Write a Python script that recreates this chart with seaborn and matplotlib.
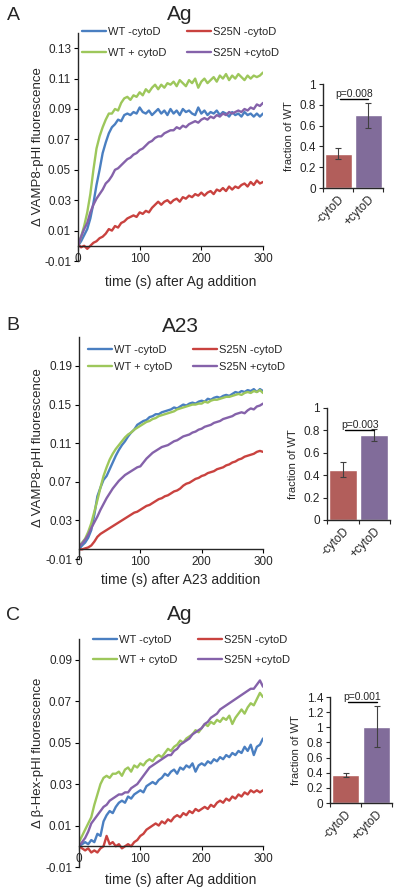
import numpy as np
import pandas as pd
import matplotlib
matplotlib.use("Agg")
import matplotlib.pyplot as plt
import seaborn as sns

# -----------------------------
# DATA
# -----------------------------
time = np.arange(0, 301, 5)
groups = ["WT -cytoD", "WT + cytoD", "S25N -cytoD", "S25N +cytoD"]
colors = ["#4A7FC1", "#9DC75B", "#C9423F", "#8562AA"]

# Panel A: VAMP8-pHl, Ag
a_wt = [0.000, 0.003, 0.007, 0.011, 0.018, 0.028, 0.040, 0.050, 0.061, 0.068, 0.074,
        0.078, 0.080, 0.083, 0.082, 0.086, 0.087, 0.086, 0.088, 0.087, 0.091, 0.088,
        0.087, 0.089, 0.086, 0.088, 0.090, 0.087, 0.089, 0.086, 0.090, 0.087, 0.089,
        0.086, 0.090, 0.088, 0.089, 0.087, 0.086, 0.091, 0.087, 0.089, 0.086, 0.088,
        0.087, 0.089, 0.086, 0.088, 0.087, 0.085, 0.088, 0.086, 0.087, 0.085, 0.088,
        0.086, 0.087, 0.085, 0.087, 0.085, 0.087]
a_wt_cyto = [0.000, 0.006, 0.013, 0.022, 0.034, 0.050, 0.064, 0.072, 0.078, 0.083, 0.087,
             0.087, 0.090, 0.089, 0.094, 0.097, 0.098, 0.096, 0.099, 0.098, 0.101, 0.099,
             0.103, 0.101, 0.104, 0.106, 0.103, 0.106, 0.104, 0.107, 0.106, 0.108, 0.105,
             0.109, 0.107, 0.105, 0.109, 0.107, 0.110, 0.104, 0.108, 0.110, 0.107, 0.109,
             0.111, 0.108, 0.112, 0.110, 0.113, 0.109, 0.112, 0.110, 0.113, 0.111, 0.109,
             0.112, 0.110, 0.112, 0.111, 0.112, 0.114]
a_mut = [0.001, -0.001, 0.000, -0.002, 0.000, 0.002, 0.003, 0.005, 0.006, 0.008, 0.011,
         0.010, 0.013, 0.012, 0.015, 0.016, 0.018, 0.019, 0.020, 0.019, 0.022, 0.021,
         0.023, 0.022, 0.025, 0.027, 0.029, 0.027, 0.029, 0.030, 0.028, 0.030, 0.031,
         0.029, 0.032, 0.031, 0.033, 0.032, 0.034, 0.033, 0.035, 0.033, 0.035, 0.036,
         0.034, 0.037, 0.036, 0.038, 0.036, 0.039, 0.037, 0.039, 0.038, 0.040, 0.041,
         0.039, 0.042, 0.040, 0.043, 0.041, 0.042]
a_mut_cyto = [0.000, 0.006, 0.011, 0.015, 0.022, 0.027, 0.031, 0.034, 0.037, 0.041, 0.043,
              0.046, 0.050, 0.051, 0.053, 0.055, 0.057, 0.058, 0.060, 0.061, 0.063, 0.064,
              0.066, 0.068, 0.069, 0.071, 0.072, 0.072, 0.074, 0.075, 0.076, 0.076, 0.078,
              0.077, 0.079, 0.078, 0.080, 0.081, 0.082, 0.081, 0.083, 0.084, 0.083, 0.085,
              0.084, 0.086, 0.085, 0.087, 0.086, 0.088, 0.087, 0.088, 0.089, 0.088, 0.090,
              0.089, 0.091, 0.090, 0.093, 0.092, 0.094]

# Panel B: VAMP8-pHl, A23
b_wt = [0.000, 0.004, 0.007, 0.012, 0.020, 0.036, 0.055, 0.064, 0.072, 0.076, 0.083,
        0.090, 0.097, 0.103, 0.108, 0.112, 0.117, 0.121, 0.124, 0.129, 0.131, 0.133,
        0.134, 0.137, 0.138, 0.140, 0.140, 0.142, 0.143, 0.144, 0.145, 0.147, 0.146,
        0.148, 0.150, 0.149, 0.151, 0.152, 0.151, 0.153, 0.154, 0.153, 0.156, 0.155,
        0.157, 0.158, 0.157, 0.159, 0.160, 0.159, 0.161, 0.163, 0.162, 0.164, 0.163,
        0.165, 0.164, 0.166, 0.163, 0.166, 0.164]
b_wt_cyto = [0.003, 0.007, 0.011, 0.018, 0.027, 0.039, 0.051, 0.064, 0.076, 0.085, 0.093,
             0.099, 0.104, 0.108, 0.112, 0.116, 0.119, 0.121, 0.124, 0.126, 0.128, 0.130,
             0.132, 0.133, 0.135, 0.136, 0.138, 0.139, 0.140, 0.141, 0.142, 0.143, 0.145,
             0.146, 0.147, 0.148, 0.149, 0.150, 0.150, 0.151, 0.151, 0.153, 0.152, 0.154,
             0.155, 0.155, 0.156, 0.157, 0.158, 0.158, 0.159, 0.160, 0.161, 0.160, 0.162,
             0.163, 0.162, 0.164, 0.163, 0.165, 0.162]
b_mut = [0.000, 0.000, 0.001, 0.002, 0.004, 0.008, 0.013, 0.016, 0.018, 0.020, 0.022,
         0.024, 0.026, 0.028, 0.030, 0.032, 0.034, 0.036, 0.038, 0.039, 0.041, 0.043,
         0.045, 0.046, 0.048, 0.050, 0.052, 0.053, 0.055, 0.056, 0.058, 0.060, 0.061,
         0.063, 0.066, 0.068, 0.069, 0.071, 0.073, 0.074, 0.076, 0.077, 0.079, 0.080,
         0.081, 0.083, 0.084, 0.085, 0.087, 0.088, 0.090, 0.091, 0.093, 0.094, 0.096,
         0.097, 0.098, 0.099, 0.101, 0.102, 0.101]
b_mut_cyto = [0.003, 0.006, 0.010, 0.015, 0.022, 0.028, 0.034, 0.041, 0.047, 0.053, 0.058,
              0.063, 0.067, 0.071, 0.074, 0.077, 0.079, 0.081, 0.083, 0.085, 0.086, 0.090,
              0.094, 0.097, 0.100, 0.102, 0.104, 0.106, 0.107, 0.108, 0.110, 0.112, 0.113,
              0.115, 0.117, 0.118, 0.119, 0.121, 0.122, 0.124, 0.125, 0.127, 0.128, 0.129,
              0.131, 0.132, 0.133, 0.135, 0.136, 0.137, 0.138, 0.140, 0.141, 0.142, 0.141,
              0.144, 0.146, 0.145, 0.148, 0.149, 0.151]

# Panel C: beta-Hex-pHl, Ag
c_wt = [0.000, 0.001, 0.002, 0.001, 0.003, 0.002, 0.006, 0.005, 0.012, 0.015, 0.017,
        0.016, 0.019, 0.021, 0.022, 0.021, 0.024, 0.023, 0.025, 0.026, 0.027, 0.026,
        0.029, 0.030, 0.031, 0.030, 0.032, 0.033, 0.035, 0.034, 0.036, 0.037, 0.035,
        0.038, 0.037, 0.039, 0.038, 0.040, 0.036, 0.039, 0.040, 0.039, 0.041, 0.040,
        0.042, 0.041, 0.043, 0.042, 0.044, 0.043, 0.045, 0.044, 0.046, 0.045, 0.048,
        0.046, 0.049, 0.044, 0.048, 0.049, 0.052]
c_wt_cyto = [0.002, 0.005, 0.008, 0.011, 0.014, 0.020, 0.025, 0.030, 0.033, 0.034, 0.033,
             0.035, 0.035, 0.036, 0.034, 0.037, 0.038, 0.036, 0.039, 0.038, 0.040, 0.039,
             0.041, 0.042, 0.041, 0.043, 0.044, 0.043, 0.045, 0.047, 0.046, 0.048, 0.049,
             0.051, 0.050, 0.052, 0.053, 0.054, 0.056, 0.055, 0.057, 0.059, 0.058, 0.060,
             0.059, 0.061, 0.060, 0.062, 0.061, 0.063, 0.059, 0.062, 0.064, 0.066, 0.064,
             0.067, 0.069, 0.068, 0.071, 0.074, 0.072]
c_mut = [0.000, -0.001, -0.002, -0.001, -0.003, -0.002, -0.003, -0.001, 0.000, 0.005, 0.001,
         0.002, 0.000, 0.001, -0.001, 0.000, 0.001, 0.000, 0.002, 0.003, 0.005, 0.006,
         0.008, 0.009, 0.010, 0.011, 0.010, 0.012, 0.011, 0.013, 0.012, 0.014, 0.015,
         0.014, 0.016, 0.015, 0.017, 0.016, 0.018, 0.017, 0.018, 0.019, 0.018, 0.020,
         0.019, 0.021, 0.022, 0.021, 0.023, 0.022, 0.024, 0.023, 0.025, 0.024, 0.026,
         0.025, 0.027, 0.026, 0.027, 0.026, 0.027]
c_mut_cyto = [0.000, 0.002, 0.004, 0.007, 0.011, 0.013, 0.015, 0.017, 0.019, 0.020, 0.022,
              0.023, 0.024, 0.025, 0.025, 0.026, 0.026, 0.028, 0.029, 0.030, 0.032, 0.034,
              0.036, 0.038, 0.039, 0.040, 0.041, 0.042, 0.043, 0.044, 0.044, 0.046, 0.047,
              0.049, 0.050, 0.051, 0.052, 0.054, 0.055, 0.056, 0.057, 0.059, 0.060, 0.062,
              0.063, 0.064, 0.066, 0.067, 0.068, 0.069, 0.070, 0.071, 0.072, 0.073, 0.074,
              0.075, 0.076, 0.076, 0.078, 0.080, 0.077]

# bar insets: fraction of WT (mean, error)
bar_labels = ["-cytoD", "+cytoD"]
bar_colors = ["#C0504D", "#8064A2"]
a_frac = [0.33, 0.70]
a_err = [0.05, 0.12]
b_frac = [0.45, 0.76]
b_err = [0.065, 0.055]
c_frac = [0.37, 1.01]
c_err = [0.03, 0.27]
p_texts = ["p=0.008", "p=0.003", "p=0.001"]

# -----------------------------
# STYLE
# -----------------------------
sns.set_style("ticks")
plt.rcParams["font.family"] = ["Liberation Sans", "DejaVu Sans"]
plt.rcParams["axes.linewidth"] = 1.0

fig = plt.figure(figsize=(4, 8.94), dpi=100)
W, H = 400, 894


def px_box(left, top, right, bottom):
    return [left / W, 1 - bottom / H, (right - left) / W, (bottom - top) / H]


def main_panel(box, curves, ymax, yticks, ylabel, xlabel, xlabel_y, leg_xy, leg_space):
    ax = fig.add_axes(px_box(*box))
    df = pd.DataFrame({
        "time": np.tile(time, 4),
        "value": np.concatenate(curves),
        "group": np.repeat(groups, len(time)),
    })
    sns.lineplot(data=df, x="time", y="value", hue="group", hue_order=groups,
                 palette=colors, linewidth=1.7, ax=ax)
    ax.set_xlim(0, 300)
    ax.set_ylim(-0.01, ymax)
    ax.set_xticks([0, 100, 200, 300])
    ax.set_yticks(yticks)
    ax.set_yticklabels([f"{v:.2f}" for v in yticks])
    ax.spines["bottom"].set_position(("data", 0))
    sns.despine(ax=ax)
    ax.tick_params(labelsize=8.5, length=3, width=0.8, pad=2, color="black")
    ax.set_xlabel(xlabel, fontsize=10, va="center")
    ax.set_ylabel(ylabel, fontsize=9.5, va="center")
    # label centres given in figure pixels
    x_mid = (box[0] + box[2]) / 2
    fig_label_x = (x_mid + 10 - box[0]) / (box[2] - box[0])
    ax.xaxis.set_label_coords(fig_label_x, (box[3] - xlabel_y) / (box[3] - box[1]))
    ax.yaxis.set_label_coords((38 - box[0]) / (box[2] - box[0]), 0.5)
    handles, labels = ax.get_legend_handles_labels()
    ax.legend(handles, labels, ncol=2, loc="upper left", frameon=False,
              bbox_to_anchor=(leg_xy[0] / W, 1 - leg_xy[1] / H),
              bbox_transform=fig.transFigure, fontsize=8, handlelength=2.2,
              handletextpad=0.1, columnspacing=1.9, labelspacing=leg_space,
              borderaxespad=0, borderpad=0)
    return ax


def bar_panel(box, frac, err, ymax, yticks, ytick_labels, ptext, p_y):
    ax = fig.add_axes(px_box(*box))
    sns.barplot(x=bar_labels, y=frac, hue=bar_labels, palette=bar_colors,
                width=0.9, legend=False, ax=ax)
    ax.errorbar([0, 1], frac, yerr=err, fmt="none", ecolor="#404040",
                elinewidth=0.8, capsize=2, capthick=0.8)
    ax.set_xlim(-0.5, 1.5)
    ax.set_ylim(0, ymax)
    ax.set_yticks(yticks)
    ax.set_yticklabels(ytick_labels)
    ax.set_xticks([0, 1])
    ax.set_xticklabels(bar_labels, rotation=45, ha="right",
                       rotation_mode="anchor")
    ax.set_xticks([-0.5, 0.5, 1.5], minor=True)
    ax.tick_params(axis="x", which="major", length=0, labelsize=8.5, pad=4)
    ax.tick_params(axis="x", which="minor", length=3, width=0.8)
    ax.tick_params(axis="y", labelsize=8.5, length=3, width=0.8, pad=2)
    sns.despine(ax=ax)
    ax.set_ylabel("fraction of WT", fontsize=8)
    ax.plot([0.08, 1.0], [p_y, p_y], color="black", lw=1.0, clip_on=False)
    ax.text(0.54, p_y, ptext, ha="center", va="bottom", fontsize=7.5,
            clip_on=False)
    return ax


# Panel A
main_panel((78, 33, 263, 261), [a_wt, a_wt_cyto, a_mut, a_mut_cyto], 0.14,
           [-0.01, 0.01, 0.03, 0.05, 0.07, 0.09, 0.11, 0.13],
           "\u0394 VAMP8-pHl fluorescence", "time (s) after Ag addition", 282,
           (82, 27), 0.95)
bar_panel((323, 84, 383, 188), a_frac, a_err, 1.0, [0, 0.2, 0.4, 0.6, 0.8, 1.0],
          ["0", "0.2", "0.4", "0.6", "0.8", "1"], p_texts[0], 0.86)
fig.text(13 / W, 1 - 15 / H, "A", fontsize=14, ha="center", va="center")
fig.text(180 / W, 1 - 15 / H, "Ag", fontsize=15, ha="center", va="center")

# Panel B
main_panel((79, 337, 263, 559), [b_wt, b_wt_cyto, b_mut, b_mut_cyto], 0.22,
           [-0.01, 0.03, 0.07, 0.11, 0.15, 0.19],
           "\u0394 VAMP8-pHl fluorescence", "time (s) after A23 addition", 580,
           (88, 345), 0.6)
bar_panel((327, 408, 390, 520), b_frac, b_err, 1.0, [0, 0.2, 0.4, 0.6, 0.8, 1.0],
          ["0", "0.2", "0.4", "0.6", "0.8", "1"], p_texts[1], 0.80)
fig.text(13 / W, 1 - 325 / H, "B", fontsize=14, ha="center", va="center")
fig.text(180 / W, 1 - 327 / H, "A23", fontsize=15, ha="center", va="center")

# Panel C
main_panel((79, 639, 263, 867), [c_wt, c_wt_cyto, c_mut, c_mut_cyto], 0.10,
           [-0.01, 0.01, 0.03, 0.05, 0.07, 0.09],
           "\u0394 \u03b2-Hex-pHl fluorescence", "time (s) after Ag addition", 880,
           (93, 635), 0.9)
bar_panel((330, 697, 392, 803), c_frac, c_err, 1.4,
          [0, 0.2, 0.4, 0.6, 0.8, 1.0, 1.2, 1.4],
          ["0", "0.2", "0.4", "0.6", "0.8", "1", "1.2", "1.4"], p_texts[2], 1.33)
fig.text(13 / W, 1 - 615 / H, "C", fontsize=14, ha="center", va="center")
fig.text(180 / W, 1 - 615 / H, "Ag", fontsize=15, ha="center", va="center")

fig.savefig("out.png", dpi=100)
